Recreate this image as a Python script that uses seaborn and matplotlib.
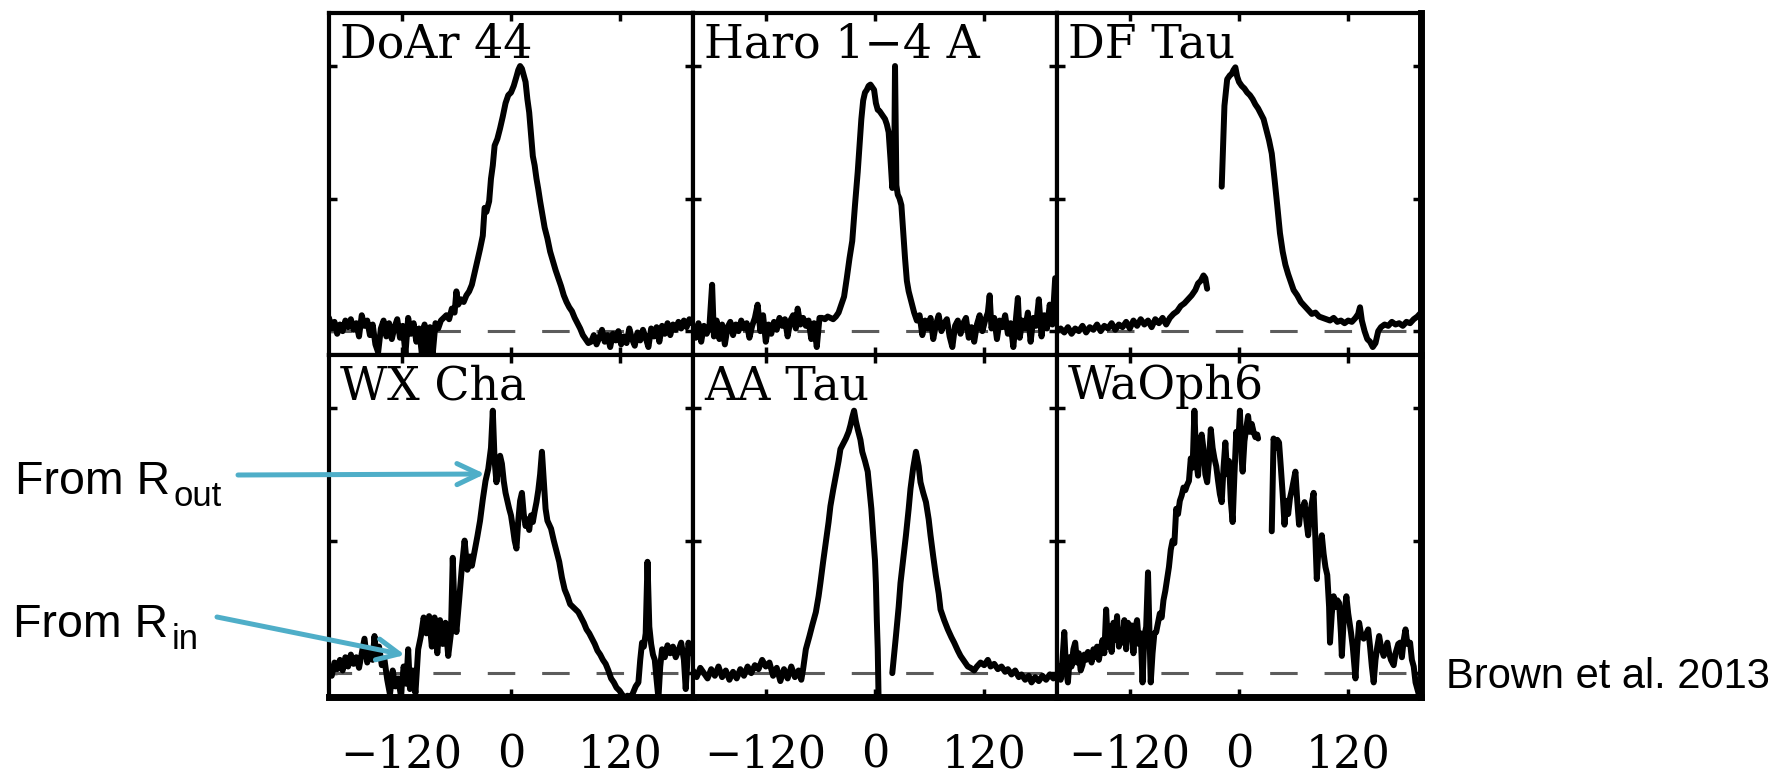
import numpy as np
import pandas as pd
import matplotlib
matplotlib.use("Agg")
import matplotlib.pyplot as plt
import seaborn as sns
from matplotlib.patches import FancyArrowPatch

# ---------------- data (velocity km/s, normalised flux); None = gap ----------------
stars = ["DoAr 44", "Haro 1\u22124 A", "DF Tau", "WX Cha", "AA Tau", "WaOph6"]

doar44 = [(-200, 0.10), (-197, 0.02), (-194, 0.07), (-191, -0.02), (-188, 0.05), (-185, 0.00), (-182, 0.08),
          (-179, 0.03), (-176, 0.09), (-173, 0.01), (-170, 0.06), (-167, -0.04), (-164, 0.12), (-161, 0.04),
          (-158, 0.08), (-155, -0.03), (-152, 0.05), (-149, -0.10), (-146, -0.16), (-143, 0.02), (-140, 0.08),
          (-137, -0.04), (-134, 0.06), (-131, -0.06), (-128, 0.03), (-125, 0.09), (-122, -0.05), (-119, 0.04),
          (-116, -0.17), (-113, 0.10), (-110, -0.02), (-107, 0.06), (-104, -0.08), (-101, 0.02), (-98, -0.17),
          (-95, 0.05), (-92, -0.16), (-89, 0.03), (-86, -0.17), (-83, 0.06), (-80, 0.02), (-77, 0.08),
          (-74, 0.10), (-71, 0.12), (-68, 0.09), (-65, 0.17), (-62, 0.14), (-60, 0.30), (-58, 0.20), (-55, 0.24),
          (-52, 0.22), (-49, 0.27), (-46, 0.30), (-43, 0.35), (-40, 0.44), (-37, 0.53), (-34, 0.62), (-31, 0.72),
          (-29, 0.93), (-27, 0.90), (-24, 0.98), (-22, 1.15), (-20, 1.25), (-18, 1.40), (-15, 1.45), (-12, 1.53),
          (-9, 1.62), (-6, 1.72), (-3, 1.78), (0, 1.80), (3, 1.85), (6, 1.92), (8, 1.97), (10, 2.00), (12, 1.98),
          (14, 1.93), (16, 1.88), (18, 1.75), (20, 1.65), (22, 1.48), (24, 1.32), (26, 1.25), (28, 1.15),
          (30, 1.07), (32, 0.98), (34, 0.90), (37, 0.78), (40, 0.70), (43, 0.60), (46, 0.53), (49, 0.46),
          (52, 0.40), (55, 0.34), (58, 0.27), (61, 0.22), (64, 0.18), (67, 0.15), (70, 0.10), (73, 0.06),
          (76, 0.02), (79, -0.03), (82, -0.06), (85, -0.09), (88, -0.08), (91, -0.03), (94, -0.10), (97, -0.05),
          (100, 0.01), (103, -0.08), (106, -0.03), (109, -0.12), (112, -0.02), (115, -0.07), (118, 0.00),
          (121, -0.10), (124, -0.04), (127, -0.09), (130, 0.02), (133, -0.06), (136, -0.11), (139, -0.01),
          (142, -0.07), (145, 0.01), (148, -0.05), (151, -0.12), (154, 0.02), (157, -0.04), (160, 0.03),
          (163, -0.08), (166, 0.04), (169, -0.02), (172, 0.06), (175, -0.03), (178, 0.05), (181, 0.01),
          (184, 0.07), (187, 0.02), (190, 0.08), (193, 0.03), (196, 0.09), (199, 0.06)]

haro14a = [(-200, 0.02), (-197, -0.05), (-194, 0.06), (-191, -0.08), (-188, 0.04), (-185, -0.02), (-182, 0.03),
           (-179, 0.35), (-177, -0.04), (-174, 0.08), (-171, -0.06), (-168, 0.05), (-165, -0.10), (-162, 0.03),
           (-159, 0.07), (-156, -0.03), (-153, 0.05), (-150, 0.00), (-147, 0.08), (-144, 0.02), (-141, 0.06),
           (-138, -0.05), (-135, 0.04), (-132, 0.10), (-129, 0.20), (-126, 0.00), (-123, 0.12), (-120, -0.08),
           (-117, 0.05), (-114, -0.02), (-111, 0.07), (-108, 0.01), (-105, 0.10), (-102, 0.04), (-99, 0.09),
           (-96, -0.04), (-93, 0.08), (-90, 0.12), (-87, 0.02), (-85, 0.17), (-82, 0.05), (-79, 0.10),
           (-76, 0.04), (-73, 0.08), (-70, -0.06), (-67, 0.06), (-64, -0.12), (-61, 0.10), (-58, 0.10),
           (-55, 0.09), (-52, 0.11), (-49, 0.10), (-46, 0.09), (-43, 0.11), (-40, 0.14), (-37, 0.20),
           (-34, 0.26), (-31, 0.40), (-28, 0.55), (-25, 0.68), (-22, 0.95), (-19, 1.20), (-17, 1.40),
           (-15, 1.60), (-13, 1.74), (-11, 1.80), (-9, 1.82), (-7, 1.85), (-5, 1.86), (-3, 1.84), (-1, 1.82),
           (1, 1.72), (3, 1.67), (5, 1.66), (7, 1.64), (9, 1.62), (11, 1.60), (13, 1.56), (15, 1.50),
           (17, 1.30), (19, 1.08), (21, 1.15), (22, 2.00), (23.5, 1.10), (25, 1.03), (27, 1.00), (29, 0.95),
           (31, 0.75), (33, 0.55), (35, 0.38), (37, 0.30), (40, 0.22), (43, 0.14), (46, 0.08), (49, 0.12),
           (52, -0.03), (55, 0.08), (58, 0.02), (61, 0.10), (64, -0.06), (67, 0.05), (70, 0.12), (73, 0.00),
           (76, 0.06), (79, 0.09), (82, -0.04), (85, -0.12), (88, 0.04), (91, 0.08), (94, -0.02), (97, 0.06),
           (100, 0.10), (103, -0.05), (106, 0.03), (109, -0.08), (112, 0.05), (115, 0.12), (118, 0.00),
           (121, 0.08), (124, 0.14), (126, 0.27), (128, 0.02), (131, 0.10), (134, -0.06), (137, 0.08),
           (140, 0.03), (143, 0.12), (146, -0.02), (149, 0.06), (152, -0.12), (155, 0.10), (157, 0.25),
           (159, -0.05), (162, 0.08), (165, 0.02), (168, 0.14), (171, -0.08), (174, 0.10), (177, 0.04),
           (180, 0.24), (183, -0.04), (186, 0.12), (189, 0.02), (192, 0.20), (195, 0.05), (198, 0.40)]

dftau = [(-200, 0.00), (-196, 0.02), (-192, -0.01), (-188, 0.03), (-184, -0.02), (-180, 0.02), (-176, 0.00),
         (-172, 0.04), (-168, -0.01), (-164, 0.03), (-160, 0.01), (-156, 0.05), (-152, 0.00), (-148, 0.04),
         (-144, 0.02), (-140, 0.06), (-136, 0.01), (-132, 0.05), (-128, 0.03), (-124, 0.07), (-120, 0.02),
         (-116, 0.08), (-112, 0.04), (-108, 0.09), (-104, 0.05), (-100, 0.08), (-96, 0.03), (-92, 0.09),
         (-88, 0.06), (-84, 0.10), (-80, 0.05), (-76, 0.10), (-72, 0.13), (-68, 0.15), (-64, 0.19),
         (-60, 0.21), (-56, 0.24), (-52, 0.27), (-48, 0.31), (-45, 0.36), (-42, 0.38), (-39, 0.42),
         (-37, 0.40), (-35, 0.32), (-27, None),
         (-19, 1.09), (-16, 1.70), (-13, 1.90), (-10, 1.93), (-8, 1.94), (-6, 1.97), (-4, 1.99), (-2, 1.92),
         (0, 1.88), (3, 1.85), (6, 1.83), (9, 1.80), (12, 1.78), (15, 1.75), (18, 1.71), (21, 1.68),
         (24, 1.64), (27, 1.60), (30, 1.52), (33, 1.44), (36, 1.34), (39, 1.15), (42, 0.95), (45, 0.74),
         (48, 0.60), (51, 0.50), (54, 0.43), (57, 0.37), (60, 0.31), (64, 0.27), (68, 0.22), (72, 0.19),
         (76, 0.16), (80, 0.13), (84, 0.14), (88, 0.11), (92, 0.10), (96, 0.09), (100, 0.08), (104, 0.10),
         (108, 0.07), (112, 0.08), (116, 0.06), (120, 0.08), (124, 0.07), (128, 0.10), (131, 0.13),
         (133, 0.18), (135, 0.08), (138, 0.00), (141, -0.06), (144, -0.08), (147, -0.12), (150, -0.09),
         (153, 0.00), (156, 0.03), (160, 0.05), (164, 0.04), (168, 0.07), (172, 0.05), (176, 0.06),
         (180, 0.04), (184, 0.07), (188, 0.06), (192, 0.09), (196, 0.11), (200, 0.14)]

wxcha = [(-200, 0.05), (-197, -0.02), (-194, 0.08), (-191, 0.03), (-188, 0.10), (-185, 0.02), (-182, 0.12),
         (-179, 0.05), (-176, 0.14), (-173, 0.07), (-170, 0.12), (-167, 0.04), (-164, 0.15), (-161, 0.26),
         (-158, 0.08), (-155, 0.18), (-152, 0.10), (-150, 0.28), (-148, 0.12), (-145, 0.20), (-142, 0.06),
         (-139, 0.10), (-136, -0.05), (-133, -0.16), (-130, 0.02), (-127, -0.10), (-124, -0.04), (-121, -0.17),
         (-118, 0.05), (-115, -0.08), (-113, 0.18), (-111, -0.12), (-108, 0.02), (-105, -0.15), (-102, 0.18),
         (-99, 0.28), (-96, 0.42), (-93, 0.30), (-90, 0.43), (-87, 0.20), (-84, 0.42), (-81, 0.15),
         (-78, 0.40), (-75, 0.22), (-72, 0.38), (-69, 0.13), (-66, 0.30), (-64, 0.87), (-62, 0.45),
         (-60, 0.31), (-57, 0.55), (-54, 0.80), (-51, 1.00), (-48, 0.78), (-45, 0.88), (-43, 0.81),
         (-40, 0.92), (-37, 1.03), (-34, 1.15), (-31, 1.31), (-28, 1.45), (-25, 1.54), (-22, 1.70),
         (-20, 1.98), (-18, 1.60), (-16, 1.44), (-14, 1.55), (-12, 1.64), (-10, 1.58), (-8, 1.45),
         (-6, 1.36), (-4, 1.30), (-2, 1.24), (0, 1.19), (2, 1.10), (4, 1.00), (6, 0.94), (8, 1.15),
         (10, 1.30), (12, 1.36), (14, 1.20), (16, 1.11), (18, 1.16), (20, 1.08), (22, 1.19), (24, 1.14),
         (26, 1.22), (28, 1.29), (30, 1.38), (32, 1.50), (34, 1.67), (36, 1.45), (38, 1.24), (40, 1.15),
         (42, 1.12), (44, 1.09), (47, 1.00), (50, 0.92), (53, 0.84), (56, 0.72), (59, 0.63), (62, 0.58),
         (65, 0.52), (68, 0.50), (71, 0.48), (74, 0.46), (77, 0.42), (80, 0.38), (83, 0.33), (86, 0.30),
         (89, 0.26), (92, 0.22), (95, 0.17), (98, 0.14), (101, 0.10), (104, 0.07), (107, 0.02),
         (110, -0.04), (113, -0.07), (116, -0.11), (119, -0.13), (122, -0.16), (125, -0.19), (128, -0.17),
         (131, -0.19), (134, -0.15), (137, -0.10), (140, -0.07), (142, 0.10), (144, 0.23), (146, 0.20),
         (148, 0.30), (150, 0.84), (152, 0.35), (154, 0.22), (156, 0.14), (158, 0.10), (160, -0.05),
         (162, -0.19), (164, 0.05), (166, 0.18), (169, 0.12), (172, 0.21), (175, 0.15), (178, 0.20),
         (181, 0.12), (184, 0.17), (187, 0.23), (190, 0.10), (192, -0.12), (195, 0.23), (198, 0.15),
         (200, 0.20)]

aatau = [(-200, 0.02), (-196, -0.03), (-192, 0.04), (-188, 0.00), (-184, -0.04), (-180, 0.03), (-176, -0.02),
         (-172, 0.05), (-168, -0.03), (-164, 0.02), (-160, -0.05), (-156, 0.01), (-152, -0.04), (-148, 0.03),
         (-144, -0.02), (-140, 0.05), (-136, 0.00), (-132, 0.06), (-128, 0.03), (-124, 0.10), (-120, 0.05),
         (-116, 0.08), (-112, -0.02), (-108, 0.04), (-104, -0.06), (-100, 0.03), (-96, -0.04), (-92, 0.05),
         (-88, -0.03), (-84, 0.02), (-81, -0.05), (-79, 0.03), (-76, 0.18), (-72, 0.28), (-69, 0.36),
         (-65, 0.46), (-62, 0.58), (-60, 0.68), (-57, 0.84), (-54, 0.99), (-51, 1.14), (-49, 1.26),
         (-46, 1.38), (-43, 1.49), (-40, 1.60), (-38, 1.69), (-35, 1.73), (-32, 1.77), (-29, 1.82),
         (-27, 1.87), (-25, 1.93), (-23, 1.98), (-21, 1.90), (-19, 1.84), (-16, 1.76), (-14, 1.67),
         (-11, 1.60), (-8, 1.52), (-6, 1.38), (-4, 1.24), (-2, 1.04), (0, 0.85), (1, 0.68), (2, 0.40),
         (3, 0.18), (4, -0.22), (11, None),
         (19, 0.00), (21, 0.14), (23, 0.28), (26, 0.50), (28, 0.68), (31, 0.86), (34, 1.04), (37, 1.24),
         (39, 1.39), (42, 1.55), (45, 1.67), (48, 1.56), (50, 1.44), (53, 1.36), (56, 1.29), (59, 1.16),
         (61, 1.04), (64, 0.88), (67, 0.73), (70, 0.60), (72, 0.48), (76, 0.40), (80, 0.33), (84, 0.27),
         (87, 0.23), (91, 0.17), (94, 0.13), (98, 0.09), (102, 0.05), (105, 0.04), (109, 0.02), (112, 0.05),
         (116, 0.08), (120, 0.06), (124, 0.10), (127, 0.05), (131, 0.07), (135, 0.03), (139, 0.05),
         (143, 0.01), (146, 0.03), (150, -0.01), (154, 0.02), (158, -0.03), (161, -0.01), (165, -0.05),
         (169, -0.02), (172, -0.07), (176, -0.03), (180, -0.06), (184, -0.02), (188, -0.05), (192, -0.01),
         (196, -0.04), (200, -0.02)]

waoph6 = [(-200, 0.00), (-198, 0.05), (-196, -0.05), (-194, 0.10), (-192, 0.31), (-190, 0.02), (-188, -0.07),
          (-186, 0.12), (-184, 0.05), (-182, 0.18), (-180, 0.23), (-178, 0.08), (-176, 0.15), (-174, 0.02),
          (-172, 0.06), (-170, 0.14), (-168, 0.10), (-166, 0.16), (-164, 0.13), (-162, 0.08), (-160, 0.18),
          (-158, 0.12), (-156, 0.20), (-154, 0.10), (-152, 0.18), (-150, 0.25), (-148, 0.15), (-146, 0.48),
          (-144, 0.20), (-142, 0.35), (-140, 0.16), (-138, 0.38), (-136, 0.25), (-134, 0.43), (-132, 0.20),
          (-130, 0.32), (-128, 0.23), (-126, 0.40), (-124, 0.18), (-122, 0.38), (-120, 0.28), (-118, 0.36),
          (-116, 0.15), (-114, 0.34), (-112, 0.40), (-110, 0.22), (-108, 0.30), (-106, -0.07), (-104, 0.28),
          (-102, 0.35), (-100, 0.76), (-98, 0.20), (-97, -0.07), (-95, 0.15), (-93, 0.30), (-91, 0.31),
          (-89, 0.38), (-87, 0.45), (-85, 0.42), (-83, 0.55), (-81, 0.62), (-79, 0.71), (-77, 0.80),
          (-75, 0.93), (-73, 1.00), (-71, 0.98), (-69, 1.24), (-67, 1.20), (-65, 1.30), (-63, 1.34),
          (-61, 1.40), (-59, 1.38), (-57, 1.42), (-55, 1.45), (-53, 1.62), (-51, 1.55), (-49, 1.98),
          (-47, 1.60), (-45, 1.49), (-43, 1.72), (-41, 1.80), (-39, 1.69), (-37, 1.50), (-35, 1.44),
          (-33, 1.60), (-31, 1.84), (-29, 1.70), (-27, 1.62), (-25, 1.56), (-23, 1.45), (-21, 1.35),
          (-19, 1.29), (-17, 1.55), (-15, 1.74), (-13, 1.50), (-11, 1.60), (-9, 1.30), (-7, 1.14),
          (-5, 1.50), (-3, 1.82), (-1, 1.70), (1, 1.98), (3, 1.60), (4, 1.52), (6, 1.75), (8, 1.85),
          (10, 1.94), (12, 1.82), (14, 1.88), (16, 1.82), (18, 1.78), (20, 1.80), (21, 1.77), (28, None),
          (36, 1.07), (38, 1.77), (40, 1.70), (42, 1.76), (44, 1.74), (46, 1.55), (48, 1.35), (50, 1.12),
          (52, 1.30), (54, 1.20), (56, 1.32), (58, 1.38), (60, 1.45), (62, 1.52), (64, 1.30), (66, 1.12),
          (68, 1.25), (70, 1.20), (72, 1.29), (74, 1.15), (76, 1.04), (78, 1.20), (80, 1.28), (82, 1.36),
          (84, 1.00), (85.5, 0.71), (87, 0.90), (89, 0.95), (91, 1.04), (93, 0.90), (95, 0.80), (97, 0.74),
          (99, 0.50), (100, 0.23), (102, 0.45), (104, 0.58), (106, 0.50), (108, 0.55), (110, 0.53),
          (112, 0.30), (113, 0.13), (115, 0.40), (118, 0.58), (120, 0.45), (123, 0.31), (125, 0.20),
          (128, -0.04), (130, 0.20), (132, 0.38), (134, 0.30), (137, 0.26), (140, 0.30), (142, 0.33),
          (144, 0.20), (146, 0.05), (148, -0.07), (150, 0.10), (152, 0.20), (154, 0.28), (156, 0.20),
          (159, 0.13), (161, 0.18), (163, 0.23), (165, 0.15), (167, 0.10), (170, 0.06), (172, 0.15),
          (175, 0.22), (177, 0.23), (179, 0.12), (181, 0.25), (183, 0.33), (185, 0.22), (188, 0.23),
          (190, 0.10), (192, 0.05), (194, -0.07), (196, -0.12), (198, -0.17), (200, -0.22)]

xtick_values = [-120, 0, 120]
ytick_values = [0, 1, 2]

# ---------------- build long table ----------------
frames = []
for name, pairs in zip(stars, [doar44, haro14a, dftau, wxcha, aatau, waoph6]):
    d = pd.DataFrame(pairs, columns=["v", "flux"])
    d["flux"] = pd.to_numeric(d["flux"])
    d["seg"] = d["flux"].isna().cumsum()
    d = d.dropna()
    d["star"] = name
    frames.append(d)
data = pd.concat(frames, ignore_index=True)

# ---------------- style ----------------
sns.set_style("white")
plt.rcParams["font.family"] = ["DejaVu Serif"]
plt.rcParams["axes.edgecolor"] = "black"
plt.rcParams["text.color"] = "black"
plt.rcParams["xtick.color"] = "black"
plt.rcParams["ytick.color"] = "black"
plt.rcParams["xtick.labelcolor"] = "black"
plt.rcParams["axes.labelcolor"] = "black"

W, H = 1789, 775
fig = plt.figure(figsize=(W / 100, H / 100), dpi=100)
axes = fig.subplots(2, 3, sharex=True, sharey=True,
                    gridspec_kw=dict(left=329 / W, right=1421 / W, top=1 - 13 / H, bottom=1 - 697 / H,
                                     wspace=0, hspace=0))

for i, (ax, name) in enumerate(zip(axes.flat, stars)):
    d = data[data["star"] == name]
    ax.axhline(0, color="#5c5c5c", lw=2.2, ls=(1.6, (9, 8.8)), zorder=1)
    sns.lineplot(data=d, x="v", y="flux", units="seg", estimator=None, sort=False,
                 color="black", lw=4.3, ax=ax, legend=False, zorder=3)
    ax.text(0.03, 0.87, name, transform=ax.transAxes, fontsize=33, family="DejaVu Serif",
            color="black", ha="left", va="baseline", zorder=5)
    ax.set_xlim(-200, 200)
    ax.set_ylim(-0.18, 2.40)
    ax.set_xticks(xtick_values)
    ax.set_yticks(ytick_values)
    ax.set_xlabel("")
    ax.set_ylabel("")
    ax.tick_params(direction="in", top=True, right=True, bottom=True, left=True,
                   length=6, width=2.5, color="black", labelcolor="black", labelsize=32, pad=26,
                   labelleft=False, labelbottom=(i >= 3))
    for s in ax.spines.values():
        s.set_linewidth(3.0)
        s.set_color("black")
    if i % 3 == 2:
        ax.spines["right"].set_linewidth(5.0)
    if i >= 3:
        ax.spines["bottom"].set_linewidth(5.0)

# ---------------- annotations ----------------
arrow_color = "#4FAEC8"
renderer = fig.canvas.get_renderer()

def label_with_sub(x_px, base_px, main, sub, sub_base_px):
    t = fig.text(x_px / W, 1 - base_px / H, main, fontsize=33.5, family="Liberation Sans",
                 color="black", ha="left", va="baseline")
    bb = t.get_window_extent(renderer)
    fig.text((bb.x1 + 3) / W, 1 - sub_base_px / H, sub, fontsize=25, family="Liberation Sans",
             color="black", ha="left", va="baseline")

label_with_sub(15, 494, "From R", "out", 506)
label_with_sub(13, 637, "From R", "in", 649)

for (x0, y0), (x1, y1) in [((238, 475), (485, 474)), ((217, 617), (405, 655))]:
    fig.add_artist(FancyArrowPatch((x0 / W, 1 - y0 / H), (x1 / W, 1 - y1 / H),
                                   transform=fig.transFigure,
                                   arrowstyle="->,head_length=0.8,head_width=0.38",
                                   mutation_scale=20, lw=3.6, color=arrow_color,
                                   shrinkA=0, shrinkB=0, zorder=10))

fig.text(1446 / W, 1 - 688 / H, "Brown et al. 2013", fontsize=30, family="Liberation Sans",
         color="black", ha="left", va="baseline")

fig.savefig("out.png", dpi=100, facecolor="white")
